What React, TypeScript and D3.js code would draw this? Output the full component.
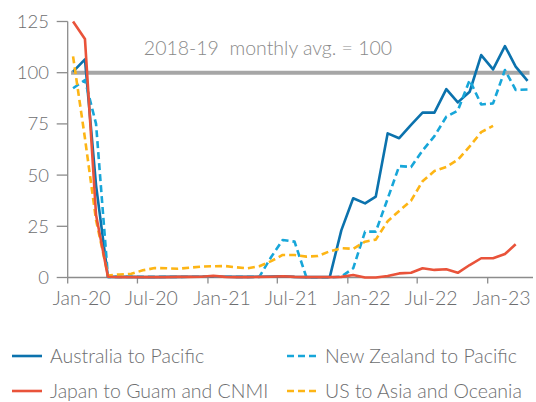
import React from "react";
import * as d3 from "d3";

const categories = [
  "Jan-20","Feb-20","Mar-20","Apr-20","May-20","Jun-20","Jul-20","Aug-20","Sep-20","Oct-20","Nov-20","Dec-20",
  "Jan-21","Feb-21","Mar-21","Apr-21","May-21","Jun-21","Jul-21","Aug-21","Sep-21","Oct-21","Nov-21","Dec-21",
  "Jan-22","Feb-22","Mar-22","Apr-22","May-22","Jun-22","Jul-22","Aug-22","Sep-22","Oct-22","Nov-22","Dec-22",
  "Jan-23","Feb-23","Mar-23","Apr-23",
];

const australia = [
  100.5, 106.5, 45, 0.3, 0.3, 0.3, 0.2, 0.2, 0.3, 0.3, 0.4, 0.4,
  0.6, 0.4, 0.3, 0.3, 0.4, 0.5, 0.6, 0.3, 0.2, 0.2, 0.3, 23,
  38.7, 36.2, 39.5, 70.4, 68, 74.5, 80.5, 80.5, 92, 85.5, 90.7, 108.6,
  101.6, 113, 103, 96,
];

const newZealand = [
  92.4, 96.4, 75, 0.3, 0.3, 0.3, 0.3, 0.3, 0.3, 0.3, 0.4, 0.4,
  0.5, 0.4, 0.3, 0.3, 0.3, 10, 18.3, 17.5, 0, 0, 0, 0.4,
  4.5, 22.4, 22.4, 38.5, 54.4, 54, 62, 69, 78.5, 81.5, 96.4, 84.5,
  85, 101.3, 91.6, 91.8,
];

const usAsiaOceania = [
  108, 68, 28, 1, 1.5, 1.8, 3.5, 4.6, 4.5, 4.3, 4.8, 5.3,
  5.5, 5.6, 5, 4.5, 5.5, 8, 11, 11, 10.2, 10.5, 12.8, 14.3,
  14, 17.5, 18.5, 27.5, 32.5, 37.5, 47, 52, 54, 57.5, 64, 71,
  74,
];

const japanGuam = [
  125, 116.5, 30.5, 0.4, 0.2, 0.2, 0.2, 0.2, 0.2, 0.3, 0.3, 0.4,
  0.8, 0.3, 0.2, 0.2, 0.3, 0.4, 0.6, 0.3, 0.2, 0.2, 0.2, 0.3,
  1.2, 0, 0, 0.7, 2, 2.3, 4.5, 3.7, 4, 2.3, 6.1, 9.4,
  9.4, 11.5, 16.2,
];

const baselineValue = 100;
const yTicks = [0, 25, 50, 75, 100, 125];
const xTickLabels = ["Jan-20", "Jul-20", "Jan-21", "Jul-21", "Jan-22", "Jul-22", "Jan-23"];
const annotation = "2018-19  monthly avg. = 100";

const seriesDefs = [
  { name: "Australia to Pacific", values: australia, color: "#0b72ad", dash: null },
  { name: "New Zealand to Pacific", values: newZealand, color: "#17a6d9", dash: "7,4" },
  { name: "US to Asia and Oceania", values: usAsiaOceania, color: "#fdb515", dash: "7,4" },
  { name: "Japan to Guam and CNMI", values: japanGuam, color: "#e9533a", dash: null },
];

const legendOrder = [
  ["Australia to Pacific", 0, 0],
  ["New Zealand to Pacific", 1, 0],
  ["Japan to Guam and CNMI", 0, 1],
  ["US to Asia and Oceania", 1, 1],
];

const parseMonth = d3.timeParse("%b-%y");
const monthDate = (s: string) => {
  const d = parseMonth(s) as Date;
  return new Date(d.getFullYear(), d.getMonth(), 15);
};
const tickDate = (s: string) => parseMonth(s) as Date;

export default function App() {
  const W = 536, H = 402;
  const font = "Lato, 'Open Sans', sans-serif";
  const textColor = "#6d6e70";
  const axisColor = "#8c8c8c";

  const x = d3.scaleTime()
    .domain([new Date(2020, 0, 1), new Date(2023, 0, 1)])
    .range([67.7, 487.7]);
  const y = d3.scaleLinear().domain([0, 125]).range([277.5, 21.5]);

  const line = d3.line<[Date, number]>()
    .x((d) => x(d[0]))
    .y((d) => y(d[1]));

  const dates = categories.map(monthDate);
  const refLine = line([
    [dates[0], baselineValue],
    [dates[dates.length - 1], baselineValue],
  ]) as string;

  const xAxisLeft = x(new Date(2020, 0, 1));
  const legendColX = [12, 287];
  const legendRowY = [356, 391];

  return (
    <svg width={W} height={H} style={{ position: "absolute", left: 0, top: 0, background: "#fff" }}
      fontFamily={font} fontWeight={300}>
      {/* reference line */}
      <path d={refLine} stroke="#a6a6a6" strokeWidth={4} fill="none" strokeLinecap="square" />
      <text x={268} y={55} textAnchor="middle" fontSize={19.5} fill="#8a8a8a"
        style={{ whiteSpace: "pre" }}>{annotation}</text>

      {/* y axis */}
      <line x1={xAxisLeft} x2={xAxisLeft} y1={y(125)} y2={y(0)} stroke={axisColor} strokeWidth={1.3} />
      {yTicks.map((t) => (
        <g key={t}>
          <line x1={xAxisLeft - 11} x2={xAxisLeft} y1={y(t)} y2={y(t)} stroke={axisColor} strokeWidth={1.3} />
          <text x={49} y={y(t) + 6.5} textAnchor="end" fontSize={18.5} fill={textColor}>{t}</text>
        </g>
      ))}

      {/* x axis */}
      <line x1={xAxisLeft} x2={533} y1={y(0)} y2={y(0)} stroke={axisColor} strokeWidth={1.3} />
      {xTickLabels.map((lab) => {
        const tx = x(tickDate(lab));
        return (
          <g key={lab}>
            <line x1={tx} x2={tx} y1={y(0)} y2={y(0) + 6} stroke={axisColor} strokeWidth={1.3} />
            <text x={tx + 14} y={304.5} textAnchor="middle" fontSize={19.5} fill={textColor}>{lab}</text>
          </g>
        );
      })}

      {/* series */}
      {seriesDefs.map((s) => {
        const pts = s.values.map((v, i) => [dates[i], v] as [Date, number]);
        return (
          <path key={s.name} d={line(pts) as string} fill="none" stroke={s.color}
            strokeWidth={2.6} strokeDasharray={s.dash ?? undefined} strokeLinejoin="round" />
        );
      })}

      {/* legend */}
      {legendOrder.map(([name, col, row]) => {
        const s = seriesDefs.find((d) => d.name === name)!;
        const lx = legendColX[col as number];
        const ly = legendRowY[row as number];
        return (
          <g key={name as string}>
            <line x1={lx} x2={lx + 30} y1={ly} y2={ly} stroke={s.color} strokeWidth={2.6}
              strokeDasharray={s.dash ?? undefined} />
            <text x={lx + 38} y={ly + 7} fontSize={19.5} fill={textColor}>{name}</text>
          </g>
        );
      })}
    </svg>
  );
}
